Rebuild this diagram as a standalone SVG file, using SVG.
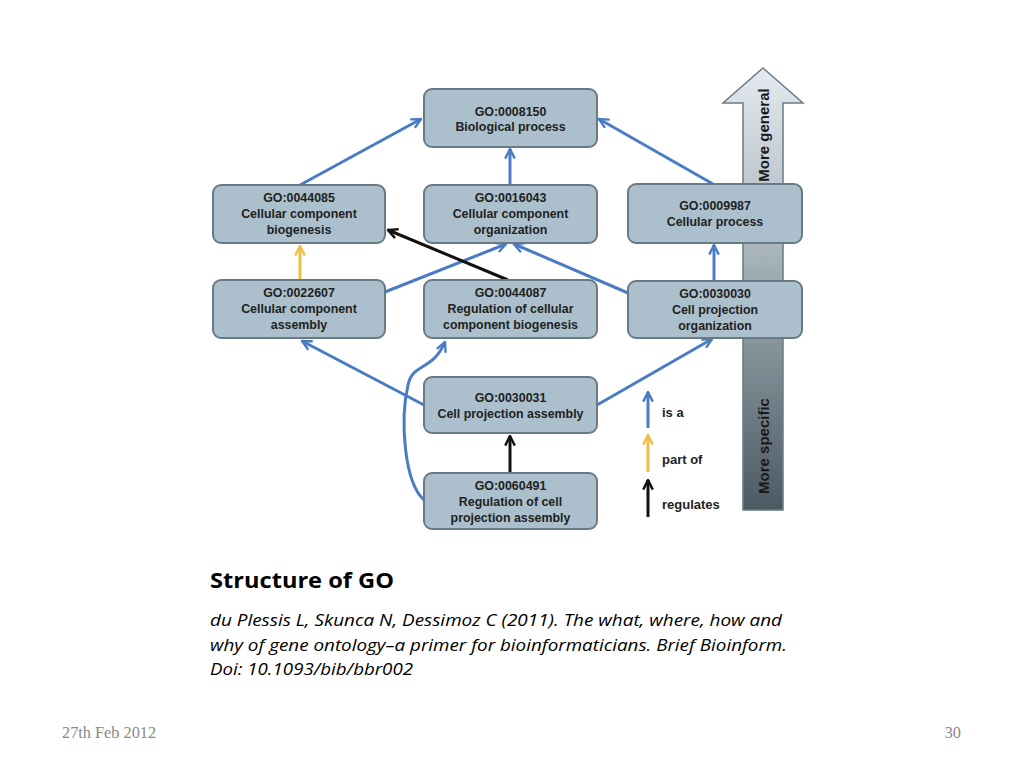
<svg xmlns="http://www.w3.org/2000/svg" width="1023" height="767" viewBox="0 0 1023 767">
<defs>
<style>
.node rect{fill:#abc0cc;stroke:#6a7a84;stroke-width:2}
.node text{font-family:"Liberation Sans",Arial,sans-serif;font-weight:bold;font-size:12.4px;fill:#222;text-anchor:middle}
.isa{stroke:#4a7cc4;stroke-width:3;fill:none}
.partof{stroke:#eebf45;stroke-width:3;fill:none}
.reg{stroke:#111;stroke-width:3;fill:none}
.leg{font-family:"Liberation Sans",Arial,sans-serif;font-weight:bold;font-size:13px;fill:#222}
.cap{font-family:"Open Sans","Liberation Sans",sans-serif;fill:#000}
.foot{font-family:"Liberation Serif","Times New Roman",serif;font-size:16.3px;fill:#888}
</style>
<marker id="mb" viewBox="0 0 10 10" refX="9" refY="5" markerWidth="4" markerHeight="4" orient="auto" markerUnits="strokeWidth"><polyline points="1,1 9,5 1,9" fill="none" stroke="#4a7cc4" stroke-width="2"/></marker>
<marker id="my" viewBox="0 0 10 10" refX="9" refY="5" markerWidth="4" markerHeight="4" orient="auto" markerUnits="strokeWidth"><polyline points="1,1 9,5 1,9" fill="none" stroke="#eebf45" stroke-width="2"/></marker>
<marker id="mk" viewBox="0 0 10 10" refX="9" refY="5" markerWidth="4" markerHeight="4" orient="auto" markerUnits="strokeWidth"><polyline points="1,1 9,5 1,9" fill="none" stroke="#111" stroke-width="2"/></marker>
<linearGradient id="grad" x1="0" y1="0" x2="0" y2="1">
<stop offset="0" stop-color="#e4ebf0"/>
<stop offset="0.45" stop-color="#a3afb7"/>
<stop offset="1" stop-color="#4c5962"/>
</linearGradient>
</defs>
<rect width="1023" height="767" fill="#fff"/>

<g id="scale-arrow">
<polygon points="763,68 803,103 783,103 783,510 743,510 743,103 723,103" fill="url(#grad)" stroke="#6a7a84" stroke-width="1.5"/>
<text transform="translate(769,135) rotate(-90)" text-anchor="middle" font-family="Liberation Sans,Arial,sans-serif" font-weight="bold" font-size="15" fill="#1a1a1a">More general</text>
<text transform="translate(769,446) rotate(-90)" text-anchor="middle" font-family="Liberation Sans,Arial,sans-serif" font-weight="bold" font-size="15" fill="#1a1a1a">More specific</text>
</g>

<g id="connectors">
<line class="isa" x1="300" y1="185" x2="421" y2="119" marker-end="url(#mb)"/>
<line class="isa" x1="510" y1="185" x2="510" y2="149" marker-end="url(#mb)"/>
<line class="isa" x1="713" y1="184" x2="599" y2="119" marker-end="url(#mb)"/>
<line class="partof" x1="300" y1="280" x2="300" y2="246" marker-end="url(#my)"/>
<line class="isa" x1="385" y1="292" x2="506" y2="244" marker-end="url(#mb)"/>
<line class="reg" x1="508" y1="280" x2="388" y2="230" marker-end="url(#mk)"/>
<line class="isa" x1="628" y1="293" x2="514" y2="244" marker-end="url(#mb)"/>
<line class="isa" x1="714" y1="281" x2="714" y2="245" marker-end="url(#mb)"/>
<line class="isa" x1="424" y1="405" x2="302" y2="341" marker-end="url(#mb)"/>
<line class="isa" x1="597" y1="405" x2="712" y2="339" marker-end="url(#mb)"/>
<line class="reg" x1="510" y1="473" x2="510" y2="436" marker-end="url(#mk)"/>
<path class="isa" d="M424,500 C404,482 400,420 408,385 C413,362 432,372 445,342" marker-end="url(#mb)"/>
</g>

<g id="n0008150" class="node"><rect x="424" y="89" width="173" height="58" rx="8"/><text x="510.5" y="116">GO:0008150</text><text x="510.5" y="131">Biological process</text></g>
<g id="n0044085" class="node"><rect x="213" y="185" width="172" height="58" rx="8"/><text x="299" y="202">GO:0044085</text><text x="299" y="218">Cellular component</text><text x="299" y="234">biogenesis</text></g>
<g id="n0016043" class="node"><rect x="424" y="185" width="173" height="58" rx="8"/><text x="510.5" y="202">GO:0016043</text><text x="510.5" y="218">Cellular component</text><text x="510.5" y="234">organization</text></g>
<g id="n0009987" class="node"><rect x="628" y="184" width="174" height="59" rx="8"/><text x="715" y="210">GO:0009987</text><text x="715" y="226">Cellular process</text></g>
<g id="n0022607" class="node"><rect x="213" y="280" width="172" height="58" rx="8"/><text x="299" y="297">GO:0022607</text><text x="299" y="313">Cellular component</text><text x="299" y="329">assembly</text></g>
<g id="n0044087" class="node"><rect x="424" y="280" width="173" height="58" rx="8"/><text x="510.5" y="297">GO:0044087</text><text x="510.5" y="313">Regulation of cellular</text><text x="510.5" y="329">component biogenesis</text></g>
<g id="n0030030" class="node"><rect x="628" y="281" width="174" height="57" rx="8"/><text x="715" y="298">GO:0030030</text><text x="715" y="314">Cell projection</text><text x="715" y="330">organization</text></g>
<g id="n0030031" class="node"><rect x="424" y="377" width="173" height="56" rx="8"/><text x="510.5" y="402">GO:0030031</text><text x="510.5" y="418">Cell projection assembly</text></g>
<g id="n0060491" class="node"><rect x="424" y="473" width="173" height="56" rx="8"/><text x="510.5" y="490">GO:0060491</text><text x="510.5" y="506">Regulation of cell</text><text x="510.5" y="522">projection assembly</text></g>

<g id="legend">
<line class="isa" x1="648" y1="428" x2="648" y2="392" marker-end="url(#mb)"/>
<text class="leg" x="662" y="417">is a</text>
<line class="partof" x1="648" y1="472" x2="648" y2="435" marker-end="url(#my)"/>
<text class="leg" x="662" y="464">part of</text>
<line class="reg" x1="648" y1="517" x2="648" y2="480" marker-end="url(#mk)"/>
<text class="leg" x="662" y="509">regulates</text>
</g>

<g id="caption">
<text class="cap" x="210" y="588" font-size="21" font-weight="bold" textLength="184" lengthAdjust="spacingAndGlyphs">Structure of GO</text>
<text class="cap" x="210" y="626" font-size="16.5" font-style="italic" textLength="572" lengthAdjust="spacingAndGlyphs">du Plessis L, Skunca N, Dessimoz C (2011). The what, where, how and</text>
<text class="cap" x="210" y="651" font-size="16.5" font-style="italic" textLength="577" lengthAdjust="spacingAndGlyphs">why of gene ontology–a primer for bioinformaticians. Brief Bioinform.</text>
<text class="cap" x="210" y="675" font-size="16.5" font-style="italic" textLength="203" lengthAdjust="spacingAndGlyphs">Doi: 10.1093/bib/bbr002</text>
</g>

<g id="footer">
<text class="foot" x="62" y="738">27th Feb 2012</text>
<text class="foot" x="961" y="738" text-anchor="end">30</text>
</g>
</svg>
